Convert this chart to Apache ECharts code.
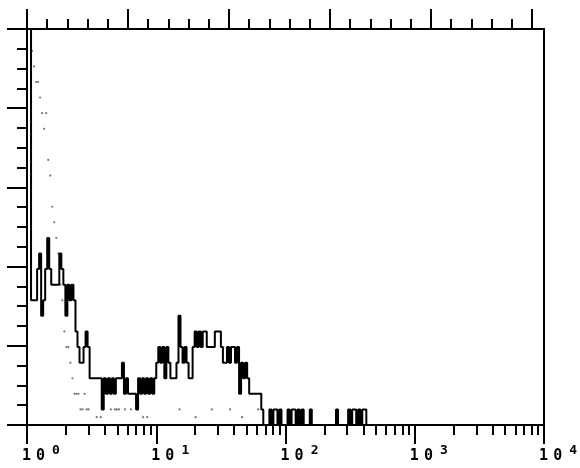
<!DOCTYPE html>
<html>
<head>
<meta charset="utf-8">
<script src="https://cdn.jsdelivr.net/npm/echarts@6/dist/echarts.min.js"></script>
<style>
  html, body { margin: 0; padding: 0; background: #fff; }
  #chart { width: 580px; height: 468px; }
</style>
</head>
<body>
<div id="chart"></div>
<script>
// Fluorescence histogram: 256 log-amplified channels, 64 channels per decade.
const totalChannels = 256;
const channelsPerDecade = 64;

// Stained sample, events per channel (channel 0 upward); first two bins run off scale.
const stainedCounts = [
  40, 40, 8, 8, 8, 10, 11, 7, 8, 10,
  12, 10, 9, 9, 9, 9, 11, 10, 9, 7,
  9, 8, 9, 8, 6, 5, 4, 4, 5, 6,
  5, 3, 3, 3, 3, 3, 3, 1, 3, 2,
  3, 2, 3, 2, 3, 3, 3, 4, 2, 3,
  2, 2, 2, 2, 1, 3, 2, 3, 2, 3,
  2, 3, 2, 3, 4, 5, 4, 5, 3, 5,
  4, 3, 3, 3, 4, 7, 5, 4, 5, 4,
  3, 3, 5, 6, 5, 6, 5, 6, 6, 5,
  5, 5, 5, 6, 6, 6, 5, 4, 4, 5,
  4, 5, 5, 4, 5, 2, 4, 3, 4, 3,
  2, 2, 2, 2, 2, 2, 1, 0, 0, 0,
  1, 0, 1, 1, 0, 1, 0, 0, 0, 1,
  0, 1, 1, 0, 1, 0, 1, 0, 0, 0,
  1, 0, 0, 0, 0, 0, 0, 0, 0, 0,
  0, 0, 0, 1, 0, 0, 0, 0, 0, 1,
  0, 1, 1, 0, 1, 0, 1, 1, 0
];

// Unstained control, events per channel, plotted as one dot per channel.
const controlCounts = [
  40, 30, 24, 23, 22, 22, 21, 20, 19, 20,
  17, 16, 14, 13, 12, 11, 9, 8, 6, 5,
  5, 4, 3, 2, 2, 2, 1, 1, 2, 1,
  1, 0, 0, 0, 0.5, 0, 0.5, 0, 0, 0,
  0, 1, 0, 1, 1, 1, 0, 0, 1, 0,
  0, 1, 0, 0, 0, 0, 0, 0.5, 0, 0.5,
  0, 0, 0, 0, 0, 0, 0, 0, 0, 0,
  0, 0, 0, 0, 0, 1, 0, 0, 0, 0,
  0, 0, 0, 0.5, 0, 0, 0, 0, 0, 0,
  0, 1, 0, 0, 0, 0, 0, 0, 0, 0,
  1, 0, 0, 0, 0, 0, 0.5, 0, 0, 0,
  0, 0, 0, 0, 1
];

// Axis scales and tick labels.
const decadeExponents = ['0', '1', '2', '3', '4'];
const countMax = 25.4;
const countTickStep = 1.27;
const countMajorEvery = 4;
const channelTickStep = 10;
const channelMajorStep = 50;

// ---- derived tick positions ----
const decadeChannels = decadeExponents.map((e, i) => i * channelsPerDecade);
const minorChannels = [];
for (let d = 0; d < decadeExponents.length - 1; d++) {
  for (let k = 2; k <= 9; k++) {
    minorChannels.push(channelsPerDecade * (d + Math.log10(k)));
  }
}
const topMinor = [];
for (let c = 0; c < totalChannels; c += channelTickStep) topMinor.push(c);
const topMajor = [];
for (let c = 0; c < totalChannels; c += channelMajorStep) topMajor.push(c);
const countMinor = [];
const countMajor = [];
const nCountTicks = Math.round(countMax / countTickStep);
for (let k = 0; k <= nCountTicks; k++) {
  const v = +(k * countTickStep).toFixed(4);
  countMinor.push(v);
  if (k % countMajorEvery === 0) countMajor.push(v);
}

// ---- series data ----
const stainedData = stainedCounts.map((v, c) => [c, v]);
stainedData.push([stainedCounts.length, 0]);
const controlData = [];
controlCounts.forEach((v, c) => { if (v > 0) controlData.push([c + 0.5, v]); });

const ink = '#000';
const lineW = 2;
const mono = '"DejaVu Sans Mono", "Liberation Mono", monospace';

function hidden() { return { show: false }; }

const chart = echarts.init(document.getElementById('chart'), null, { renderer: 'canvas' });
chart.setOption({
  animation: false,
  backgroundColor: '#fff',
  grid: { left: 27, right: 35, top: 29, bottom: 43, containLabel: false },
  xAxis: [
    { // bottom: log decades, minor ticks
      type: 'value', min: 0, max: totalChannels, position: 'bottom',
      axisLine: { show: true, onZero: false, lineStyle: { color: ink, width: lineW } },
      axisTick: { show: true, inside: false, length: 10, customValues: minorChannels,
                  lineStyle: { color: ink, width: lineW } },
      axisLabel: hidden(), splitLine: hidden()
    },
    { // bottom: decade ticks and labels
      type: 'value', min: 0, max: totalChannels, position: 'bottom',
      axisLine: { show: false, onZero: false },
      axisTick: { show: true, inside: false, length: 19, customValues: decadeChannels,
                  lineStyle: { color: ink, width: lineW } },
      axisLabel: {
        show: true, customValues: decadeChannels, margin: 19, align: 'center',
        padding: [0, 0, 0, 28],
        formatter: (v) => '{m|1}{z|0}{e|' + decadeExponents[Math.round(v / channelsPerDecade)] + '}',
        rich: {
          m: { fontFamily: mono, fontWeight: 'bold', fontSize: 15, color: ink,
               lineHeight: 20, verticalAlign: 'bottom', padding: [0, 5, 0, 0] },
          z: { fontFamily: mono, fontWeight: 'bold', fontSize: 15, color: ink,
               lineHeight: 20, verticalAlign: 'bottom', padding: [0, 7, 0, 0] },
          e: { fontFamily: mono, fontWeight: 'bold', fontSize: 13, color: ink,
               lineHeight: 20, verticalAlign: 'top' }
        }
      },
      splitLine: hidden()
    },
    { // top: linear channel ticks
      type: 'value', min: 0, max: totalChannels, position: 'top',
      axisLine: { show: true, onZero: false, lineStyle: { color: ink, width: lineW } },
      axisTick: { show: true, inside: false, length: 10, customValues: topMinor,
                  lineStyle: { color: ink, width: lineW } },
      axisLabel: hidden(), splitLine: hidden()
    },
    { // top: every fifth channel tick
      type: 'value', min: 0, max: totalChannels, position: 'top',
      axisLine: { show: false, onZero: false },
      axisTick: { show: true, inside: false, length: 20, customValues: topMajor,
                  lineStyle: { color: ink, width: lineW } },
      axisLabel: hidden(), splitLine: hidden()
    }
  ],
  yAxis: [
    {
      type: 'value', min: 0, max: countMax, position: 'left',
      axisLine: { show: true, onZero: false, lineStyle: { color: ink, width: lineW } },
      axisTick: { show: true, inside: false, length: 10, customValues: countMinor,
                  lineStyle: { color: ink, width: lineW } },
      axisLabel: hidden(), splitLine: hidden()
    },
    {
      type: 'value', min: 0, max: countMax, position: 'left',
      axisLine: { show: false, onZero: false },
      axisTick: { show: true, inside: false, length: 20, customValues: countMajor,
                  lineStyle: { color: ink, width: lineW } },
      axisLabel: hidden(), splitLine: hidden()
    },
    {
      type: 'value', min: 0, max: countMax, position: 'right',
      axisLine: { show: true, onZero: false, lineStyle: { color: ink, width: lineW } },
      axisTick: hidden(), axisLabel: hidden(), splitLine: hidden()
    }
  ],
  series: [
    {
      name: 'control', type: 'scatter', xAxisIndex: 0, yAxisIndex: 0,
      data: controlData, symbol: 'circle', symbolSize: 2.2,
      itemStyle: { color: '#555' }, clip: true, silent: true, z: 2
    },
    {
      name: 'stained', type: 'line', xAxisIndex: 0, yAxisIndex: 0,
      data: stainedData, step: 'end', showSymbol: false, clip: true,
      lineStyle: { color: ink, width: 2 }, silent: true, z: 3
    }
  ]
});
</script>
</body>
</html>
